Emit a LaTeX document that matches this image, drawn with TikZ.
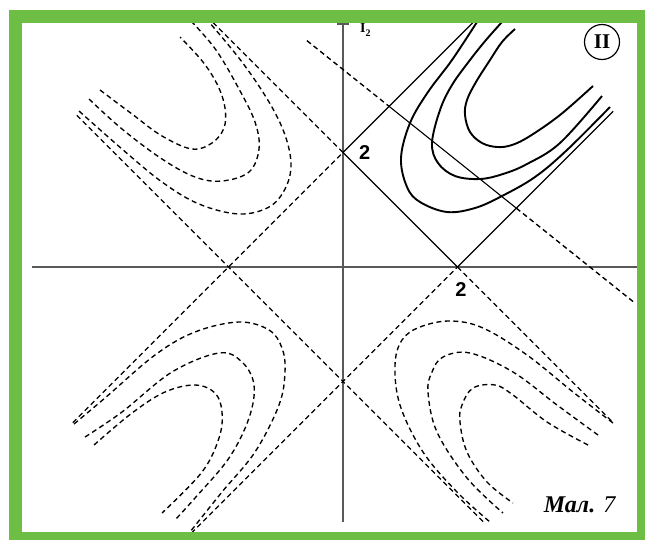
\documentclass[tikz,border=0pt]{standalone}
\usepackage{fontspec}
\setmainfont{Liberation Serif}
\newfontfamily\numfont{Liberation Sans}
\usetikzlibrary{positioning}
\definecolor{framegreen}{RGB}{110,190,70}
\begin{document}
\begin{tikzpicture}[x=1pt,y=-1pt,
  axis/.style={draw=black!65,line width=1.9pt},
  edge/.style={line width=1.1pt},
  dashline/.style={line width=1.35pt,dash pattern=on 5pt off 3.5pt},
  level/.style={line width=1.9pt},
  num/.style={font=\numfont\bfseries\fontsize{20}{20}\selectfont,inner sep=0pt}]
  \useasboundingbox (0,0) rectangle (645,539);
  \begin{scope}[shift={(343,267)},x=57.25pt,y=57.25pt]
    \coordinate (O) at (0,0); \coordinate (A) at (0,2); \coordinate (B) at (2,0);
    \coordinate (C) at (-2,0); \coordinate (D) at (0,-2);
    \coordinate (a1) at (-4.72,-2.72); \coordinate (a2) at (2.3,4.3);
    \coordinate (b1) at (-2.27,4.27); \coordinate (b2) at (4.72,-2.72);
    \coordinate (c1) at (-4.65,2.65); \coordinate (c2) at (2.45,-4.45);
    \coordinate (d1) at (-2.65,-4.65); \coordinate (d2) at (4.72,2.72);
    \coordinate (e1) at (-0.63,3.954); \coordinate (e2) at (0.8056,2.8056);
    \coordinate (e3) at (3.0278,1.0278); \coordinate (e4) at (5.1,-0.63);
  \end{scope}
  \coordinate (xl) at (32,267); \coordinate (xr) at (640,267);
  \coordinate (yt) at (343,24); \coordinate (yb) at (343,522);
  \begin{scope}
    \clip (22,23) rectangle (637,532);
    \draw[axis] (xl)--(xr); \draw[axis] (yt)--(yb); \draw[axis] ([xshift=-6pt]yt)--([xshift=6pt]yt);
    \draw[dashline] (a1)--(A); \draw[edge] (A)--(a2);
    \draw[dashline] (b1)--(A); \draw[edge] (A)--(B); \draw[dashline] (B)--(b2);
    \draw[dashline] (c1)--(C)--(D)--(c2);
    \draw[dashline] (d1)--(D)--(B); \draw[edge] (B)--(d2);
    \draw[dashline] (e1)--(e2); \draw[edge] (e2)--(e3); \draw[dashline] (e3)--(e4);
    \draw[level] plot[smooth,tension=0.6] coordinates {(477,22) (452,60) (428,92) (410,123) (401,158) (407,187) (420,202) (447,212) (475,208) (502,196) (535,177) (567,150) (610,107)};
    \draw[level] plot[smooth,tension=0.6] coordinates {(502,22) (486,40) (470,60) (452,85) (440,110) (432,143) (438,163) (455,176) (480,179) (503,174) (527,164) (560,143) (602,96)};
    \draw[level] plot[smooth,tension=0.6] coordinates {(515,29) (502,42) (490,60) (476,82) (467,100) (465,115) (470,132) (482,143) (497,147) (512,145) (530,136) (560,115) (593,86)};
    \draw[dashline] plot[smooth,tension=0.6] coordinates {(79,111) (122,149) (162,182) (199,204) (239,214) (269,207) (285,189) (291,165) (285,135) (269,102) (242,62) (209,22)};
    \draw[dashline] plot[smooth,tension=0.6] coordinates {(89,99) (122,129) (162,159) (195,177) (222,181) (249,172) (259,149) (255,122) (239,89) (216,50) (192,22)};
    \draw[dashline] plot[smooth,tension=0.6] coordinates {(100,90) (132,114) (162,136) (192,149) (212,143) (224,128) (225,108) (218,86) (203,62) (180,37)};
    \draw[dashline] plot[smooth,tension=0.6] coordinates {(74,424) (105,398) (155,355) (195,332) (239,322) (269,330) (282,348) (285,372) (279,405) (255,452) (222,492) (190,532)};
    \draw[dashline] plot[smooth,tension=0.6] coordinates {(85,437) (122,412) (172,372) (219,353) (242,362) (254,385) (249,418) (229,458) (195,498) (175,520)};
    \draw[dashline] plot[smooth,tension=0.6] coordinates {(94,445) (132,413) (165,392) (195,385) (215,393) (222,412) (219,438) (202,472) (162,513)};
    \draw[dashline] plot[smooth,tension=0.6] coordinates {(613,423) (573,392) (527,355) (483,328) (450,321) (420,327) (402,340) (395,365) (400,405) (423,452) (457,492) (490,522)};
    \draw[dashline] plot[smooth,tension=0.6] coordinates {(598,435) (557,405) (513,372) (470,353) (443,357) (432,372) (428,392) (437,432) (467,478) (503,513)};
    \draw[dashline] plot[smooth,tension=0.6] coordinates {(588,445) (547,422) (513,395) (495,385) (473,388) (462,405) (460,422) (467,452) (487,482) (513,503)};
  \end{scope}
  \node[num,right=16pt of A] (twoy) {2};
  \node[num,below=15pt of B,xshift=3.5pt] (twox) {2};
  \node[anchor=north west,inner sep=0pt,font=\bfseries\fontsize{14}{14}\selectfont] (xlab) at (360,23) {I\raisebox{-4pt}{\fontsize{10}{10}\selectfont 2}};
  \node[draw,circle,line width=1.2pt,minimum size=35pt,inner sep=0pt,font=\bfseries\fontsize{21}{21}\selectfont] (reg) at (602,42) {II};
  \node[font=\fontsize{24}{24}\selectfont] (cap) at (580,505) {\textbf{\textit{Мал.}} \textit{7}};
  \draw[framegreen,line width=13pt] (15.5,16.5) rectangle (643.5,538.5);
\end{tikzpicture}
\end{document}
